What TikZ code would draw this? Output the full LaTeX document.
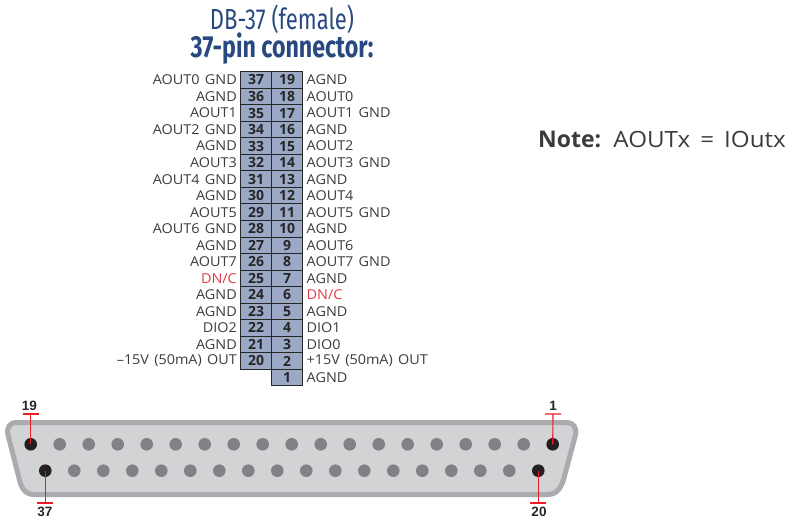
\documentclass[tikz,border=0pt]{standalone}
\usepackage{fontspec}
\setmainfont[FakeStretch=1.06,WordSpace=1.4]{Open Sans}
\newfontfamily\titlefont[FakeStretch=0.76]{Fira Sans}
\newfontfamily\numfont{Liberation Sans}
\newfontfamily\cellfont{Open Sans}
\newfontfamily\noteboldfont[FakeStretch=1.0]{Open Sans Bold}
\newfontfamily\notefont[FakeStretch=1.08,WordSpace=1.6]{Open Sans}
\definecolor{titleblue}{HTML}{27497F}
\definecolor{cellblue}{HTML}{9CA9C6}
\definecolor{labelgray}{HTML}{3C3C3E}
\definecolor{dncred}{HTML}{E03A45}
\definecolor{shellfill}{HTML}{D1D3D5}
\definecolor{shelledge}{HTML}{A9ABAE}
\definecolor{pingray}{HTML}{808285}
\definecolor{pinblack}{HTML}{231F20}
\definecolor{markred}{HTML}{ED1C24}
\tikzset{
  x=1pt,y=-1pt,
  cellbox/.style={draw=black!85,line width=0.9pt,fill=cellblue,minimum width=31pt,minimum height=16.53pt,inner sep=0pt,outer sep=0pt,text=black!85,font=\fontsize{14}{14}\cellfont\bfseries},
  leftlab/.style={anchor=east,inner sep=0pt,text=labelgray,font=\fontsize{13.6}{14}\selectfont},
  rightlab/.style={anchor=west,inner sep=0pt,text=labelgray,font=\fontsize{13.6}{14}\selectfont},
  titletext/.style={inner sep=0pt,text=titleblue},
  pinplain/.style={circle,fill=pingray,minimum size=12.6pt,inner sep=0pt},
  pinmark/.style={circle,fill=pinblack,minimum size=12.6pt,inner sep=0pt},
  marker/.style={draw=markred,line width=1.1pt},
  pinnum/.style={inner sep=0pt,text=black!85,font=\fontsize{13.5}{14}\numfont\bfseries},
}
\begin{document}
\begin{tikzpicture}
\useasboundingbox (0,0) rectangle (793,519);
% titles
\node[titletext,font=\fontsize{29}{30}\titlefont] (t1) at (282,19.5) {DB-37 (female)};
\node[titletext,font=\fontsize{30.5}{30}\titlefont\bfseries] (t2) at (282,49) {37-pin connector:};
% table
\def\rowh{16.53}
\foreach \l/\a/\b/\r/\lc/\rc [count=\i from 0] in {
 AOUT0 GND/37/19/AGND/labelgray/labelgray,
 AGND/36/18/AOUT0/labelgray/labelgray,
 AOUT1/35/17/AOUT1 GND/labelgray/labelgray,
 AOUT2 GND/34/16/AGND/labelgray/labelgray,
 AGND/33/15/AOUT2/labelgray/labelgray,
 AOUT3/32/14/AOUT3 GND/labelgray/labelgray,
 AOUT4 GND/31/13/AGND/labelgray/labelgray,
 AGND/30/12/AOUT4/labelgray/labelgray,
 AOUT5/29/11/AOUT5 GND/labelgray/labelgray,
 AOUT6 GND/28/10/AGND/labelgray/labelgray,
 AGND/27/9/AOUT6/labelgray/labelgray,
 AOUT7/26/8/AOUT7 GND/labelgray/labelgray,
 DN\slash C/25/7/AGND/dncred/labelgray,
 AGND/24/6/DN\slash C/labelgray/dncred,
 AGND/23/5/AGND/labelgray/labelgray,
 DIO2/22/4/DIO1/labelgray/labelgray,
 AGND/21/3/DIO0/labelgray/labelgray,
 {\char"2013 15V (50mA) OUT}/20/2/+15V (50mA) OUT/labelgray/labelgray}
{
  \pgfmathsetmacro{\yy}{71.7+\rowh*(\i+0.5)}
  \node[cellbox] (c\a) at (256,\yy) {\a};
  \node[cellbox] (c\b) at (287,\yy) {\b};
  \node[leftlab,text=\lc] (ll\a) at (237,\yy) {\l};
  \node[rightlab,text=\rc] (rl\b) at (306.5,\yy) {\r};
}
\node[cellbox] (c1) at (287,377.4) {1};
\node[rightlab] (rl1) at (306.5,377.4) {AGND};
% note
\node[anchor=base west,inner sep=0pt,text=labelgray,font=\fontsize{22.4}{24}\notefont] (note) at (538,147.5) {{\fontsize{23}{24}\noteboldfont Note:} AOUTx = IOutx};
% shell
\path[draw=shelledge,fill=shellfill,line width=5pt,line join=round]
 (17,422.5) -- (566,422.5)
 .. controls (574,422.5) and (577,428) .. (575.5,435)
 -- (564,478)
 .. controls (561,489) and (556,494.5) .. (548,494.5)
 -- (34,494.5)
 .. controls (26,494.5) and (21,489) .. (19,478)
 -- (8,435)
 .. controls (6.5,428) and (9,422.5) .. (17,422.5) -- cycle;
% pins
\foreach \n in {0,...,18}{
  \pgfmathsetmacro{\px}{30.7+29*\n}
  \pgfmathtruncatemacro{\id}{19-\n}
  \ifnum\n=0 \node[pinmark] (p\id) at (\px,444.3) {};
  \else\ifnum\n=18 \node[pinmark] (p\id) at (\px,444.3) {};
  \else \node[pinplain] (p\id) at (\px,444.3) {};
  \fi\fi
}
\foreach \n in {0,...,17}{
  \pgfmathsetmacro{\px}{45.3+29*\n}
  \pgfmathtruncatemacro{\id}{37-\n}
  \ifnum\n=0 \node[pinmark] (p\id) at (\px,470.7) {};
  \else\ifnum\n=17 \node[pinmark] (p\id) at (\px,470.7) {};
  \else \node[pinplain] (p\id) at (\px,470.7) {};
  \fi\fi
}
% markers
\coordinate (m19) at (30.7,414);
\coordinate (m1) at (553,414);
\coordinate (m37) at (45.3,503);
\coordinate (m20) at (538.3,503);
\draw[marker] (p19.center) -- (m19) (22.7,414) -- (38.7,414);
\draw[marker] (p1.center) -- (m1) (545,414) -- (561,414);
\draw[marker] (p37.center) -- (m37) (37.3,503) -- (53.3,503);
\draw[marker] (p20.center) -- (m20) (530.3,503) -- (546.3,503);
\node[pinnum] (n19) at (29.5,405.5) {19};
\node[pinnum] (n1) at (553,405.5) {1};
\node[pinnum] (n37) at (45,512) {37};
\node[pinnum] (n20) at (539,512) {20};
\end{tikzpicture}
\end{document}
